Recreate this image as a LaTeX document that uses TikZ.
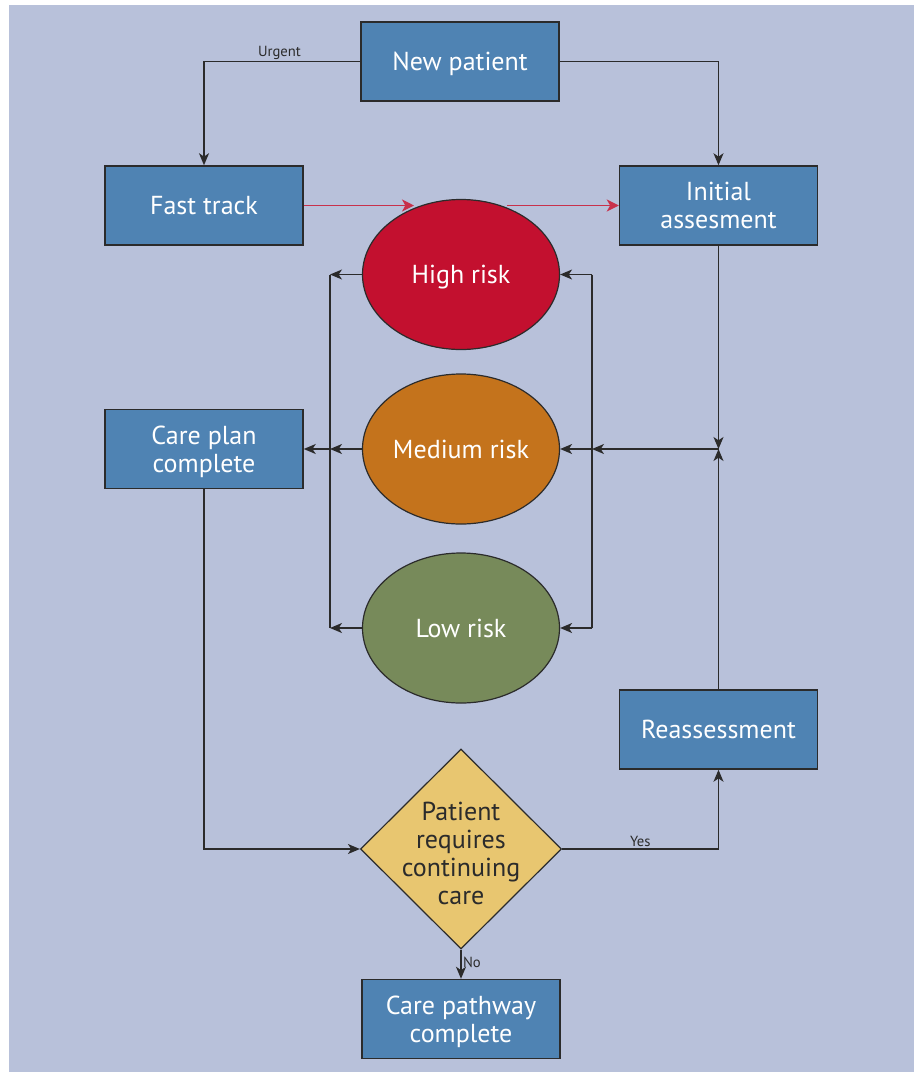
\documentclass[tikz,border=0pt]{standalone}
\usepackage{fontspec}
\setmainfont{PT Sans}
\usetikzlibrary{shapes.geometric,arrows.meta}
\definecolor{bg}{HTML}{B8C1DA}
\definecolor{boxblue}{HTML}{4F83B3}
\definecolor{highred}{HTML}{C3102F}
\definecolor{medorange}{HTML}{C4731C}
\definecolor{lowgreen}{HTML}{778A5A}
\definecolor{diamy}{HTML}{E8C670}
\definecolor{linecol}{HTML}{2B2B2B}
\definecolor{redline}{HTML}{C8314B}
\tikzset{
  boxnode/.style={draw=linecol, line width=1.1pt, fill=boxblue, text=white, rectangle,
    minimum width=148.5pt, minimum height=59.25pt, inner sep=0pt, align=center,
    text depth=0pt, font=\fontsize{19.5}{21}\selectfont},
  risknode/.style={draw=linecol, line width=0.9pt, ellipse, text=white,
    minimum width=147.75pt, minimum height=112.5pt, inner sep=0pt, align=center,
    text depth=0pt, font=\fontsize{19.5}{21}\selectfont},
  decnode/.style={draw=linecol, line width=0.9pt, diamond, fill=diamy,
    minimum width=150.75pt, minimum height=150pt, inner sep=0pt},
  dectext/.style={text=linecol, align=center, font=\fontsize{19.5}{21}\selectfont},
  arr/.style={draw=linecol, line width=1.1pt, -{Stealth[length=9pt,width=7.5pt,inset=2.5pt]}},
  plain/.style={draw=linecol, line width=1.1pt},
  redarr/.style={draw=redline, line width=1pt, -{Stealth[length=9pt,width=9pt,inset=2.5pt,fill=redline]}},
  smalllabel/.style={text=linecol, font=\fontsize{11}{12}\selectfont, inner sep=1pt}
}
\begin{document}
\begin{tikzpicture}[x=0.75pt,y=-0.75pt]
\useasboundingbox (0,0) rectangle (918,1072);
\fill[white] (0,0) rectangle (918,1072);
\fill[bg] (9,5) rectangle (914,1072);

% nodes
\node[boxnode] (np) at (460,61.5) {New patient};
\node[boxnode] (ft) at (204,205.5) {Fast track};
\node[boxnode] (ia) at (718.5,205.5) {Initial\\assesment};
\node[risknode, fill=highred] (hr) at (461,274.5) {High risk};
\node[risknode, fill=medorange] (mr) at (461,449) {Medium risk};
\node[risknode, fill=lowgreen] (lr) at (461,628) {Low risk};
\node[boxnode] (cp) at (204,449) {Care plan\\complete};
\node[boxnode] (ra) at (718.5,729.5) {Reassessment};
\node[decnode] (dm) at (461,849) {};
\node[dectext] (dmt) at (461,853) {Patient\\requires\\continuing\\care};
\node[boxnode] (cpc) at (461,1019) {Care pathway\\complete};

% helper coordinates
\coordinate (lb) at (330,0);
\coordinate (rb) at (592,0);
\coordinate (jn) at (718.5,449);
\coordinate (r1) at (414,205.5);
\coordinate (r2) at (507,205.5);

% top connectors
\draw[arr] (np.west) -| (ft.north) node[pos=0.25, above, smalllabel, xshift=-2pt] {Urgent};
\draw[arr] (np.east) -| (ia.north);
\draw[redarr] (ft.east) -- (r1);
\draw[redarr] (r2) -- (ia.west);

% left bus
\draw[arr] (hr.west) -- (hr.west -| lb);
\draw[arr] (lr.west) -- (lr.west -| lb);
\draw[arr] (mr.west) -- (mr.west -| lb);
\draw[plain] (hr.west -| lb) -- (lr.west -| lb);
\draw[arr] (mr.west -| lb) -- (cp.east);

% right bus
\draw[arr] (hr.east -| rb) -- (hr.east);
\draw[arr] (lr.east -| rb) -- (lr.east);
\draw[plain] (hr.east -| rb) -- (lr.east -| rb);
\draw[arr] (mr.east -| rb) -- (mr.east);
\draw[arr] (jn) -- (mr.east -| rb);
\draw[arr] (ia.south) -- (jn);
\draw[arr] (ra.north) -- (jn);

% bottom connectors
\draw[arr] (cp.south) |- (dm.west);
\draw[arr] (dm.east) -| (ra.south) node[pos=0.25, above, smalllabel] {Yes};
\draw[arr] (dm.south) -- (cpc.north) node[midway, right, smalllabel, yshift=1pt] {No};
\end{tikzpicture}
\end{document}
